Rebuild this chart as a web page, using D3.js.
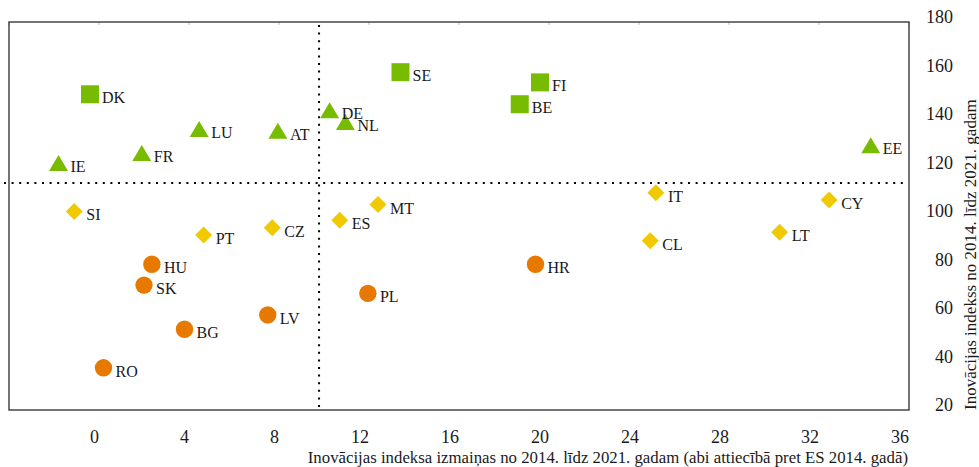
<!DOCTYPE html>
<html><head><meta charset="utf-8">
<script src="https://cdn.jsdelivr.net/npm/d3@7"></script>
<style>body{margin:0;background:#fff}svg{display:block}text{font-family:"Liberation Serif","DejaVu Serif",serif;fill:#1a1a1a}</style>
</head><body><svg id="c" width="979" height="467"></svg>
<script>
// Data (x: change 2014→2021, y: index 2021 vs EU 2014)
const squareCountries = ["DK","SE","FI","BE"];
const squareX = [-0.4, 13.4, 19.6, 18.7];
const squareY = [150.2, 159.3, 155.1, 146.1];

const triangleCountries = ["IE","FR","LU","AT","DE","NL","EE"];
const triangleX = [-1.8, 1.9, 4.45, 7.95, 10.25, 10.95, 34.3];
const triangleY = [121.9, 126.0, 135.9, 135.2, 143.6, 138.8, 129.2];

const diamondCountries = ["SI","PT","CZ","ES","MT","IT","CY","LT","CL"];
const diamondX = [-1.1, 4.65, 7.7, 10.7, 12.4, 24.75, 32.45, 30.25, 24.5];
const diamondY = [101.9, 92.2, 95.2, 98.2, 104.7, 109.6, 106.6, 93.3, 89.8];

const circleCountries = ["HU","SK","BG","LV","RO","PL","HR"];
const circleX = [2.35, 2.0, 3.8, 7.5, 0.2, 11.95, 19.4];
const circleY = [80.1, 71.5, 53.3, 59.2, 37.4, 68.1, 80.1];

const xTicks = [0,4,8,12,16,20,24,28,32,36];
const yTicks = [20,40,60,80,100,120,140,160,180];
const refX = 9.78;   // vertical dotted reference
const refY = 113.6;  // horizontal dotted reference

const xTitle = "Inovācijas indeksa izmaiņas no 2014. līdz 2021. gadam (abi attiecībā pret ES 2014. gadā)";
const yTitle = "Inovācijas indekss no 2014. līdz 2021. gadam";

const svg = d3.select("#c");
const L=9, R=909, T=22, B=410;
const x = d3.scaleLinear().domain([-4,36]).range([L,R]);
const y = d3.scaleLinear().domain([20,180]).range([B,T]);

// tick marks (light) on top border
svg.append("g").selectAll("line").data(d3.range(-4,37,4)).join("line")
  .attr("x1",d=>x(d)).attr("x2",d=>x(d)).attr("y1",T).attr("y2",T+3)
  .attr("stroke","#bbb").attr("stroke-width",1);

// reference dotted lines
svg.append("line").attr("x1",4).attr("x2",906).attr("y1",y(refY)).attr("y2",y(refY))
  .attr("stroke","#000").attr("stroke-width",2).attr("stroke-dasharray","2,5.6");
svg.append("line").attr("x1",x(refX)).attr("x2",x(refX)).attr("y1",T+3).attr("y2",B)
  .attr("stroke","#000").attr("stroke-width",2).attr("stroke-dasharray","2,5.6");

// frame
svg.append("rect").attr("x",L).attr("y",T).attr("width",R-L).attr("height",B-T)
  .attr("fill","none").attr("stroke","#3a3a3a").attr("stroke-width",1.4);

// x tick labels
svg.append("g").selectAll("text").data(xTicks).join("text")
  .attr("x",d=>x(d)).attr("y",443).attr("text-anchor","end")
  .attr("font-size",18).text(d=>d);
// y tick labels (right)
svg.append("g").selectAll("text").data(yTicks).join("text")
  .attr("x",953).attr("y",d=>y(d)+1).attr("text-anchor","end")
  .attr("font-size",18).text(d=>d);

// axis titles
svg.append("text").attr("x",908).attr("y",463).attr("text-anchor","end")
  .attr("font-size",16.8).text(xTitle);
svg.append("text").attr("transform",`translate(976,410) rotate(-90)`)
  .attr("text-anchor","start").attr("font-size",17).text(yTitle);

const GREEN="#77bc00", YELLOW="#f1c900", ORANGE="#e77800";
function group(names, xs, ys, color, pathFn){
  const data = names.map((n,i)=>({n, x:xs[i], y:ys[i]}));
  const g = svg.append("g");
  g.selectAll("path").data(data).join("path")
    .attr("transform",d=>`translate(${x(d.x)},${y(d.y)})`)
    .attr("d",pathFn).attr("fill",color);
  g.selectAll("text").data(data).join("text")
    .attr("x",d=>x(d.x)+12).attr("y",d=>y(d.y)+9)
    .attr("font-size",16).text(d=>d.n);
}
const sq = "M-9,-9H9V9H-9Z";
const tri = "M0,-8L9.5,8H-9.5Z";
const dia = "M0,-8.5L8.5,0L0,8.5L-8.5,0Z";
const circ = d3.arc()({innerRadius:0,outerRadius:8.7,startAngle:0,endAngle:2*Math.PI});
group(squareCountries, squareX, squareY, GREEN, ()=>sq);
group(triangleCountries, triangleX, triangleY, GREEN, ()=>tri);
group(diamondCountries, diamondX, diamondY, YELLOW, ()=>dia);
group(circleCountries, circleX, circleY, ORANGE, ()=>circ);
</script></body></html>
